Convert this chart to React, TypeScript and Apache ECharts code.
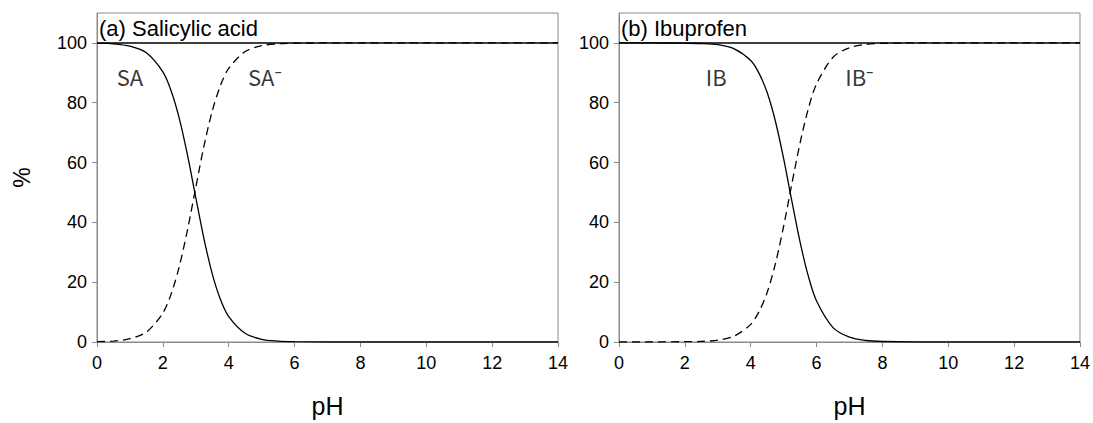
import React, { useEffect, useRef } from "react";
import * as echarts from "echarts";

const saPH = [0, 0.5, 1, 1.5, 2, 2.25, 2.5, 2.75, 3, 3.25, 3.5, 3.75, 4, 4.5, 5, 5.5, 6, 7, 8, 10, 12, 14];
const saNeutral = [99.9, 99.7, 98.9, 96.7, 90.3, 84.0, 74.7, 62.4, 48.3, 34.4, 22.8, 14.2, 8.5, 2.9, 0.9, 0.3, 0.1, 0, 0, 0, 0, 0];
const saAnion = [0.1, 0.3, 1.1, 3.3, 9.7, 16.0, 25.3, 37.6, 51.7, 65.6, 77.2, 85.8, 91.5, 97.1, 99.1, 99.7, 99.9, 100, 100, 100, 100, 100];

const ibPH = [0, 1, 2, 2.5, 3, 3.5, 4, 4.25, 4.5, 4.75, 5, 5.25, 5.5, 5.75, 6, 6.5, 7, 7.5, 8, 9, 10, 12, 14];
const ibNeutral = [100, 100, 99.9, 99.8, 99.4, 98.0, 94.1, 89.9, 83.4, 73.8, 61.3, 47.1, 33.4, 22.0, 13.7, 4.8, 1.6, 0.5, 0.16, 0, 0, 0, 0];
const ibAnion = [0, 0, 0.1, 0.2, 0.6, 2.0, 5.9, 10.1, 16.6, 26.2, 38.7, 52.9, 66.6, 78.0, 86.3, 95.2, 98.4, 99.5, 99.84, 100, 100, 100, 100];

const totalPH = [0, 14];
const totalPct = [100, 100];

const xTicks = [0, 2, 4, 6, 8, 10, 12, 14];
const yTicks = [0, 20, 40, 60, 80, 100];

const panelTitles = ["(a) Salicylic acid", "(b) Ibuprofen"];
const speciesLabels = [
  [{ text: "SA", x: 1.0, y: 89 }, { text: "SA⁻", x: 5.1, y: 89 }],
  [{ text: "IB", x: 2.95, y: 89 }, { text: "IB⁻", x: 7.3, y: 89 }],
];

const GRAY = "#8a8a8a";
const FONT = "'Liberation Sans', Arial, sans-serif";

function zip(xs: number[], ys: number[]) {
  return xs.map((x, i) => [x, ys[i]]);
}

export default function App() {
  const ref = useRef<HTMLDivElement>(null);
  useEffect(() => {
    if (!ref.current) return;
    const chart = echarts.init(ref.current, undefined, { renderer: "svg" });
    const grids = [
      { left: 97, right: 535, top: 13, bottom: 78 },
      { left: 619, right: 13, top: 13, bottom: 78 },
    ];
    const xAxis = grids.map((_, i) => ({
      type: "value",
      gridIndex: i,
      min: 0,
      max: 14,
      interval: 2,
      name: "pH",
      nameLocation: "middle",
      nameGap: 51,
      nameTextStyle: { fontFamily: FONT, fontSize: 25, color: "#000" },
      axisLine: { show: true, lineStyle: { color: GRAY, width: 1 } },
      axisTick: { show: true, length: 5, lineStyle: { color: GRAY }, customValues: xTicks },
      axisLabel: { fontFamily: FONT, fontSize: 18, color: "#000", margin: 12, customValues: xTicks },
      splitLine: { show: false },
    }));
    const yAxis = grids.map((_, i) => ({
      type: "value",
      gridIndex: i,
      min: 0,
      max: 110,
      interval: 20,
      name: i === 0 ? "%" : "",
      nameLocation: "middle",
      nameGap: 64,
      nameRotate: 90,
      nameTextStyle: { fontFamily: FONT, fontSize: 23, color: "#000" },
      axisLine: { show: true, lineStyle: { color: GRAY, width: 1 } },
      axisTick: { show: true, length: 5, lineStyle: { color: GRAY }, customValues: yTicks },
      axisLabel: { fontFamily: FONT, fontSize: 18, color: "#000", margin: 10, customValues: yTicks },
      splitLine: { show: false },
    }));
    const curves = [
      { ph: saPH, n: saNeutral, a: saAnion },
      { ph: ibPH, n: ibNeutral, a: ibAnion },
    ];
    const series: any[] = [];
    curves.forEach((c, i) => {
      series.push({
        type: "line",
        xAxisIndex: i,
        yAxisIndex: i,
        data: zip(totalPH, totalPct),
        showSymbol: false,
        lineStyle: { color: "#000", width: 1.5 },
      });
      series.push({
        type: "line",
        xAxisIndex: i,
        yAxisIndex: i,
        data: zip(c.ph, c.n),
        smooth: 0.3,
        showSymbol: false,
        lineStyle: { color: "#000", width: 1.3 },
      });
      series.push({
        type: "line",
        xAxisIndex: i,
        yAxisIndex: i,
        data: zip(c.ph, c.a),
        smooth: 0.3,
        showSymbol: false,
        lineStyle: { color: "#000", width: 1.3, type: [8, 5] },
      });
      series.push({
        type: "scatter",
        xAxisIndex: i,
        yAxisIndex: i,
        symbolSize: 0,
        data: speciesLabels[i].map((l) => ({ value: [l.x, l.y], name: l.text })),
        label: {
          show: true,
          position: "inside",
          formatter: (p: any) => p.name,
          fontFamily: "'Noto Sans CJK KR', 'Noto Sans', sans-serif",
          fontSize: 22,
          color: "#000",
          textBorderWidth: 0,
        },
      });
    });
    chart.setOption({
      animation: false,
      grid: grids.map((g) => ({ ...g, show: true, borderColor: GRAY, borderWidth: 1, backgroundColor: "transparent" })),
      xAxis,
      yAxis,
      series,
      graphic: panelTitles.map((t, i) => ({
        type: "text",
        left: grids[i].left + 2,
        top: 17,
        style: { text: t, fontFamily: FONT, fontSize: 22, fill: "#000" },
      })),
    });
    return () => chart.dispose();
  }, []);
  return <div ref={ref} style={{ width: 1093, height: 423, position: "absolute", left: 0, top: 0 }} />;
}
